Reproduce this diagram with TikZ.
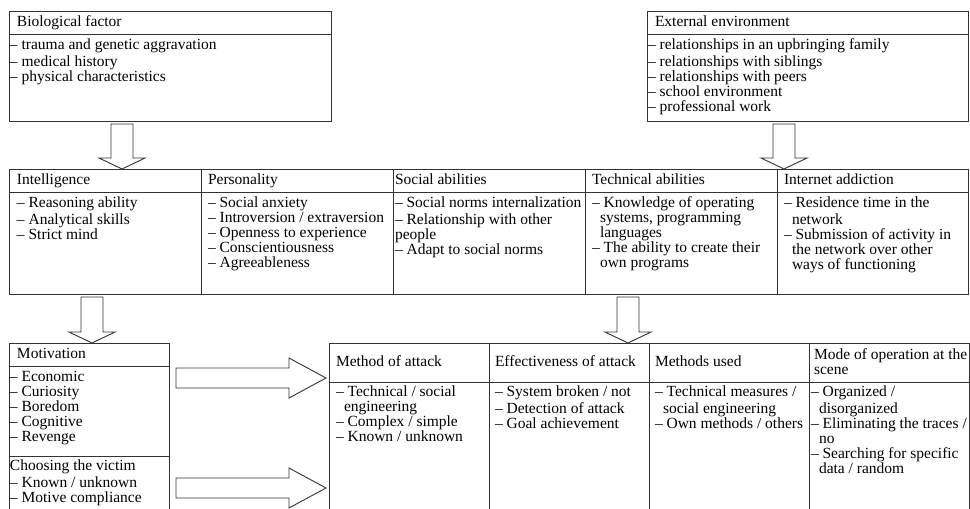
\documentclass[tikz,border=0pt]{standalone}
\usepackage{fontspec}
\setmainfont{Liberation Serif}
\usetikzlibrary{calc}

% continuation line of a list item
\newcommand{\indline}{\hspace*{8pt}}

% hollow block arrows
\newcommand{\downblock}[2]{%
  \draw[blockarr] let \p1=(#1), \p2=(#2) in
    (\x1-11pt,\y1) -- (\x1-11pt,\y2+11pt) -- (\x1-23pt,\y2+11pt) -- (\x1,\y2)
    -- (\x1+23pt,\y2+11pt) -- (\x1+11pt,\y2+11pt) -- (\x1+11pt,\y1) -- cycle;}
\newcommand{\rightblock}[2]{%
  \draw[blockarr] let \p1=(#1), \p2=(#2) in
    (\x1,\y2+10pt) -- (\x2-37pt,\y2+10pt) -- (\x2-37pt,\y2+20pt) -- (\x2,\y2)
    -- (\x2-37pt,\y2-20pt) -- (\x2-37pt,\y2-10pt) -- (\x1,\y2-10pt) -- cycle;}

\tikzset{
  cellhead/.style n args={3}{draw=black!80, anchor=north west, inner sep=0pt, outer sep=0pt, minimum height=#2,
    execute at begin node={\begin{minipage}{#1}\raggedright\leftskip=#3\relax\vspace*{2pt}\strut},
    execute at end node={\strut\end{minipage}}},
  cellbody/.style n args={4}{draw=black!80, anchor=north west, inner sep=0pt, outer sep=0pt,
    execute at begin node={\begin{minipage}[t][#2][t]{#1}\raggedright\leftskip=#3\relax\vspace*{#4}\strut},
    execute at end node={\end{minipage}}},
  blockarr/.style={draw=black!80, fill=white},
}

\begin{document}
\begin{tikzpicture}[x=1pt, y=-1pt, line width=0.9pt, every node/.style={font=\fontsize{15.5}{15}\selectfont, text=black}]

\useasboundingbox (0,0) rectangle (970,509);
\clip (0,0) rectangle (970,509);

% top boxes
\node[cellhead={322pt}{23pt}{8pt}] (bio) at (9,11) {Biological factor};
\node[cellbody={322pt}{87pt}{1pt}{5pt}] (biolist) at (bio.south west)
  {– trauma and genetic aggravation\\– medical history\\– physical characteristics};

\node[cellhead={321pt}{23pt}{8pt}] (ext) at (647,11) {External environment};
\node[cellbody={321pt}{87pt}{1pt}{5pt}] (extlist) at (ext.south west)
  {– relationships in an upbringing family\\– relationships with siblings\\– relationships with peers\\– school environment\\– professional work};

% middle row
\node[cellhead={192pt}{23pt}{8pt}] (intel) at (9,169) {Intelligence};
\node[cellbody={192pt}{102pt}{8pt}{5pt}] (intellist) at (intel.south west)
  {– Reasoning ability\\– Analytical skills\\– Strict mind};

\node[cellhead={192pt}{23pt}{7pt}] (pers) at (intel.north east) {Personality};
\node[cellbody={192pt}{102pt}{7pt}{5pt}] (perslist) at (pers.south west)
  {– Social anxiety\\– Introversion / extraversion\\– Openness to experience\\– Conscientiousness\\– Agreeableness};

\node[cellhead={192pt}{23pt}{2pt}] (social) at (pers.north east) {Social abilities};
\node[cellbody={192pt}{102pt}{2pt}{5pt}] (sociallist) at (social.south west)
  {– Social norms internalization\\– Relationship with other\\people\\– Adapt to social norms};

\node[cellhead={192pt}{23pt}{7pt}] (tech) at (social.north east) {Technical abilities};
\node[cellbody={192pt}{102pt}{7pt}{5pt}] (techlist) at (tech.south west)
  {– Knowledge of operating\\\indline systems, programming\\\indline languages\\– The ability to create their\\\indline own programs};

\node[cellhead={191pt}{23pt}{7pt}] (inet) at (tech.north east) {Internet addiction};
\node[cellbody={191pt}{102pt}{7pt}{5pt}] (inetlist) at (inet.south west)
  {– Residence time in the\\\indline network\\– Submission of activity in\\\indline the network over other\\\indline ways of functioning};

% bottom left
\node[cellhead={160pt}{23pt}{8pt}] (motiv) at (9,343) {Motivation};
\node[cellbody={160pt}{90pt}{1pt}{5pt}] (motivlist) at (motiv.south west)
  {– Economic\\– Curiosity\\– Boredom\\– Cognitive\\– Revenge};
\node[cellbody={160pt}{60pt}{1pt}{4pt}] (victim) at (motivlist.south west)
  {Choosing the victim\\– Known / unknown\\– Motive compliance};

% bottom right table
\node[cellhead={160pt}{39pt}{7pt}] (method) at (329,343) {Method of attack};
\node[cellbody={160pt}{150pt}{7pt}{4pt}] (methodlist) at (method.south west)
  {– Technical / social\\\indline engineering\\– Complex / simple\\– Known / unknown};

\node[cellhead={160pt}{39pt}{6pt}] (effect) at (method.north east) {Effectiveness of attack};
\node[cellbody={160pt}{150pt}{6pt}{4pt}] (effectlist) at (effect.south west)
  {– System broken / not\\– Detection of attack\\– Goal achievement};

\node[cellhead={160pt}{39pt}{6pt}] (used) at (effect.north east) {Methods used};
\node[cellbody={160pt}{150pt}{6pt}{4pt}] (usedlist) at (used.south west)
  {– Technical measures /\\\indline social engineering\\– Own methods / others};

\node[cellhead={160pt}{39pt}{5pt}] (mode) at (used.north east) {Mode of operation at the\\scene};
\node[cellbody={160pt}{150pt}{2pt}{4pt}] (modelist) at (mode.south west)
  {– Organized /\\\indline disorganized\\– Eliminating the traces /\\\indline no\\– Searching for specific\\\indline data / random};

% arrows
\coordinate (a1) at ($(biolist.south west)+(113,3)$);
\downblock{a1}{a1 |- intel.north}
\coordinate (a2) at ($(extlist.south west)+(137,3)$);
\downblock{a2}{a2 |- inet.north}
\coordinate (a3) at ($(intellist.south west)+(83,3)$);
\downblock{a3}{a3 |- motiv.north}
\coordinate (a4) at ($(techlist.south west)+(43,3)$);
\downblock{a4}{a4 |- effect.north}

\coordinate (a5) at ($(motivlist.north east)+(7,12)$);
\coordinate (a5e) at ($(a5 -| method.west)+(-3,0)$);
\rightblock{a5}{a5e}
\coordinate (a6) at ($(victim.north east)+(7,32)$);
\coordinate (a6e) at ($(a6 -| method.west)+(-3,0)$);
\rightblock{a6}{a6e}

\end{tikzpicture}
\end{document}
